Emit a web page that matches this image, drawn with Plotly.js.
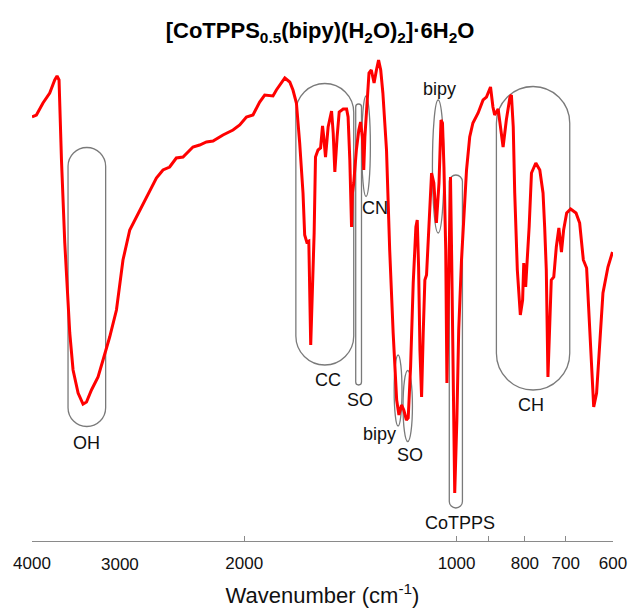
<!DOCTYPE html>
<html><head><meta charset="utf-8">
<script src="https://cdn.plot.ly/plotly-3.0.1.min.js"></script>
<style>html,body{margin:0;padding:0;background:#fff}#chart{width:630px;height:612px}</style>
</head><body><div id="chart"></div>
<script>
// ---- spectrum data ----
const wavenumber = [4000,3943,3859,3775,3714,3686,3662,3633,3594,3536,
3498,3441,3386,3348,3294,3224,3172,3104,3036,3004,
2972,2907,2844,2784,2724,2665,2608,2552,2497,2443,
2365,2314,2263,2215,2144,2075,2030,1986,1944,1902,
1871,1821,1801,1752,1724,1706,1687,1669,1651,1642,
1631,1620,1610,1603,1592,1585,1572,1559,1549,1543,
1534,1521,1504,1496,1488,1477,1467,1448,1432,1425,
1417,1409,1405,1399,1387,1376,1368,1360,1354,1349,
1340,1331,1321,1309,1299,1290,1281,1272,1257,1244,
1230,1223,1216,1207,1197,1188,1178,1171,1162,1152,
1142,1137,1132,1127,1121,1115,1109,1103,1097,1089,
1085,1077,1068,1059,1052,1047,1042,1036,1032,1026,
1020,1016,1011,1006,999,993,984,968,958,948,
932,917,907,895,888,883,873,866,859,850,
840,836,831,827,820,812,806,803,798,794,
789,783,772,762,754,750,746,742,738,734,
728,722,716,710,705,698,689,677,669,661,
654,649,644,639,633,626,620,610,601];
const transmittance = [88.6,89,91.4,93.4,96,96.8,96,80,63.4,45.4,
38,33.4,31.2,31.6,34,36.6,40,44.6,50,55.4,
60,66,68.6,71.4,74,76.4,78,78.6,80.4,80.6,
82.6,83,83.6,83.8,85,86,87,88.6,89,91.6,
93,92.8,94,96.4,95.6,94,91.4,83.4,73.4,65,
63.6,63.8,43,52,65.4,80.6,82,82.4,86.8,84.6,
80.6,86.6,89.8,85.4,77.6,84.6,89.6,90.2,90.2,88.6,
80,66.6,73.4,75.4,82,86,87.6,84.6,78,84.6,
92,97.4,98,95.4,98,100,98,93.4,82,62,
45.4,38.6,32,29,31,30,28,28.4,38.6,55.4,
66.6,68,58.6,42,32.6,45.4,56,57,64,72,
77.4,75.4,67.4,75.4,88,87.4,78.6,62,35.4,56,
76.6,60,32,13.4,28,46,60,78,84.6,87.4,
89.4,92,92.6,94.6,90.6,89,90.2,86.6,82.6,88,
92.6,93,86.6,73.4,58,49,52,59.4,54.6,60,
66.6,77.4,79.4,78,73.4,66.6,58,36.6,48.6,56,
56.6,62.6,66.4,61.6,66,69.4,70.2,69.4,67.4,60,
58.4,48.6,37.4,30.6,33.4,45.4,53.4,58.6,61.6];

// ---- axis ticks ----
const tickValues = [4000, 2000, 1000, 900, 800, 700, 600];
const tickLabels = ['4000', '2000', '1000', '', '800', '700', '600'];
const extraTickLabel = '3000';
const extraTickValue = 3000;

// ---- band labels ----
const labelText = ['OH', 'CC', 'SO', 'CN', 'bipy', 'bipy', 'SO', 'CoTPPS', 'CH'];
const labelWn   = [3348, 1521, 1369, 1306, 1057, 1285, 1166, 989, 785];
const labelT    = [23.4, 36, 32, 70.4, 94.2, 25.3, 21, 7.5, 31.1];

// ---- highlighted bands ----
const hlKind  = ['stadium','stadium','stadium','ellipse','ellipse','ellipse','ellipse','stadium','stadium'];
const hlWnHigh = [3556, 1690, 1390, 1363, 1082, 1226, 1191, 1024, 878];
const hlWnLow  = [3145, 1399, 1364, 1325, 1042, 1195, 1155, 981, 691];
const hlTTop   = [82.5, 95.3, 91.2, 92.8, 92, 41, 37.9, 77, 94.7];
const hlTBot   = [26.7, 39, 35, 72.7, 65.4, 26.8, 23.7, 10.4, 34];

// ---- layout geometry ----
const W = 630, H = 612;
const M = {l: 32, r: 17, t: 50, b: 71};
const XR = [Math.log10(4000), Math.log10(600)];
const YR = [3.8, 102];
const plotW = W - M.l - M.r, plotH = H - M.t - M.b;
const pxPerDec = plotW / (XR[0] - XR[1]);
const pxPerT = plotH / (YR[1] - YR[0]);
const toPx = nu => M.l + (XR[0] - Math.log10(nu)) * pxPerDec;
const toPy = T => M.t + (YR[1] - T) * pxPerT;
const fromPx = p => Math.pow(10, XR[0] - (p - M.l) / pxPerDec);
const fromPy = p => YR[1] - (p - M.t) / pxPerT;

const FONT = 'Arial, "Liberation Sans", sans-serif';
const GRAY = '#7a7a7a';

function stadiumPath(x0, x1, y0, y1) {
  const r = (x1 - x0) / 2, cx = (x0 + x1) / 2, k = 0.5523 * r;
  const P = (x, y) => fromPx(x).toFixed(3) + ',' + fromPy(y).toFixed(4);
  return 'M' + P(x0, y0 + r) +
    ' C' + P(x0, y0 + r - k) + ' ' + P(cx - k, y0) + ' ' + P(cx, y0) +
    ' C' + P(cx + k, y0) + ' ' + P(x1, y0 + r - k) + ' ' + P(x1, y0 + r) +
    ' L' + P(x1, y1 - r) +
    ' C' + P(x1, y1 - r + k) + ' ' + P(cx + k, y1) + ' ' + P(cx, y1) +
    ' C' + P(cx - k, y1) + ' ' + P(x0, y1 - r + k) + ' ' + P(x0, y1 - r) + ' Z';
}

const shapes = hlKind.map((kind, i) => {
  if (kind === 'ellipse') {
    return {type: 'circle', xref: 'x', yref: 'y',
      x0: hlWnHigh[i], x1: hlWnLow[i], y0: hlTBot[i], y1: hlTTop[i],
      line: {color: GRAY, width: 1.3}, fillcolor: 'rgba(0,0,0,0)', layer: 'below'};
  }
  return {type: 'path', xref: 'x', yref: 'y',
    path: stadiumPath(toPx(hlWnHigh[i]), toPx(hlWnLow[i]), toPy(hlTTop[i]), toPy(hlTBot[i])),
    line: {color: GRAY, width: 1.3}, fillcolor: 'rgba(0,0,0,0)', layer: 'below'};
});

const annotations = labelText.map((t, i) => ({
  text: t, xref: 'x', yref: 'y', x: Math.log10(labelWn[i]), y: labelT[i],
  showarrow: false, xanchor: 'center', yanchor: 'middle',
  font: {family: FONT, size: 18, color: '#111'}
}));
annotations.push({
  text: extraTickLabel, xref: 'x', yref: 'paper', x: Math.log10(extraTickValue),
  y: -(564 - (H - M.b)) / plotH, xanchor: 'center', yanchor: 'middle', showarrow: false,
  font: {family: FONT, size: 17, color: '#111'}
});

const trace = {
  type: 'scatter', mode: 'lines', x: wavenumber, y: transmittance,
  line: {color: '#ff0000', width: 3}, hoverinfo: 'skip', showlegend: false
};

const layout = {
  width: W, height: H, margin: M,
  paper_bgcolor: '#fff', plot_bgcolor: '#fff',
  showlegend: false,
  title: {
    text: '<b>[CoTPPS<sub>0.5</sub>(bipy)(H<sub>2</sub>O)<sub>2</sub>]·6H<sub>2</sub>O</b>',
    font: {family: FONT, size: 22, color: '#000'},
    xref: 'container', x: 0.508, xanchor: 'center',
    yref: 'container', y: 0.95, yanchor: 'middle'
  },
  xaxis: {
    type: 'log', range: XR, fixedrange: true,
    showgrid: false, zeroline: false,
    showline: true, linecolor: '#8a8a8a', linewidth: 1,
    ticks: 'inside', ticklen: 5, tickwidth: 1, tickcolor: '#8a8a8a',
    tickmode: 'array', tickvals: tickValues, ticktext: tickLabels,
    tickfont: {family: FONT, size: 17, color: '#111'},
    ticklabelstandoff: 7,
    automargin: false,
    title: {text: 'Wavenumber (cm<sup>-1</sup>)', font: {family: FONT, size: 22, color: '#111'}, standoff: 15}
  },
  yaxis: {visible: false, range: YR, fixedrange: true},
  shapes: shapes,
  annotations: annotations
};

Plotly.newPlot('chart', [trace], layout, {displayModeBar: false, staticPlot: true});
</script></body></html>
